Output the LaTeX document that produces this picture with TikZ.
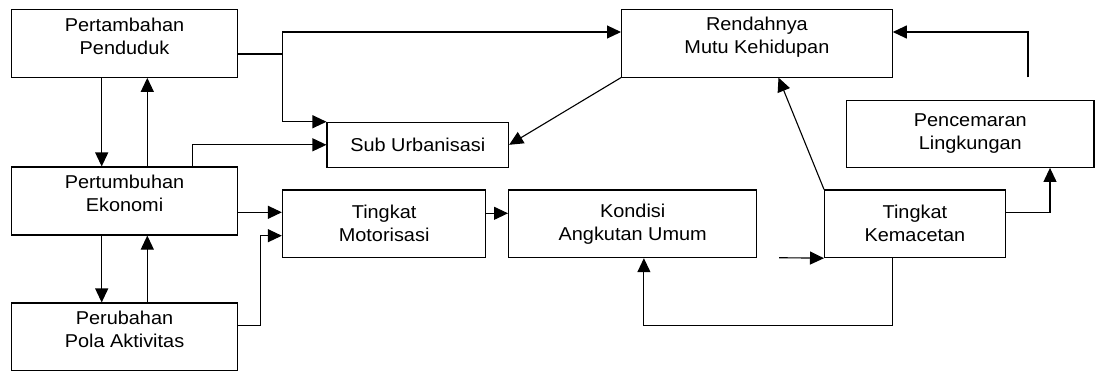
\documentclass[tikz,border=0pt]{standalone}
\usepackage{fontspec}
\setmainfont{Liberation Sans}[FakeStretch=1.07]
\usetikzlibrary{arrows.meta}

\begin{document}
\begin{tikzpicture}[x=1pt,y=-1pt,
	Box/.style = {draw, line width=1.1pt, align=center, inner sep=0pt,
		font=\fontsize{18.6}{23}\selectfont},
	Top/.style = {Box, text depth=15pt},
	Line/.style = {line width=1.1pt},
	Edge/.style = {line width=1.1pt, -{Triangle[length=14pt,width=13pt]}}]
	
	\useasboundingbox (0,0) rectangle (1095,370);
	
	\node[Top, minimum width=226pt, minimum height=68pt] (0) at (124.5,43.3) {Pertambahan\\Penduduk};
	\node[Top, minimum width=226pt, minimum height=68pt] (1) at (124.5,201) {Pertumbuhan\\Ekonomi};
	\node[Top, minimum width=226pt, minimum height=68pt] (2) at (124.5,337) {Perubahan\\Pola Aktivitas};
	
	\node[Box, minimum width=181.6pt, minimum height=45pt] (3) at (417.8,144.8) {Sub Urbanisasi};
	
	\node[Box, minimum width=203.4pt, minimum height=67.7pt] (4) at (384.1,223.8) {Tingkat\\Motorisasi};
	\node[Box, minimum width=248.3pt, minimum height=67.7pt] (5) at (632.7,223.8) {Kondisi\\Angkutan Umum};
	
	\node[Top, minimum width=270.7pt, minimum height=67.7pt] (6) at (756.9,43.2) {Rendahnya\\Mutu Kehidupan};
	
	\node[Box, minimum width=247.4pt, minimum height=67.3pt] (7) at (970.3,133.7) {Pencemaran\\Lingkungan};
	\node[Box, minimum width=180.7pt, minimum height=67.7pt] (8) at (914.9,223.8) {Tingkat\\Kemacetan};
	
	\coordinate (9) at (282.4,54);
	\coordinate (10) at (260.3,235.7);
	\coordinate (11) at (779,257.7);
	\coordinate (12) at (1028,77.3);
	
	\draw[Line] ([yshift=-10.7pt]0.east) -- (9);
	\draw[Edge] (9) |- ([yshift=11.2pt]6.west);
	\draw[Edge] (9) |- (3.north west);
	
	\draw[Edge] ([xshift=-22.8pt]0.south) -- ([xshift=-22.8pt]1.north);
	\draw[Edge] ([xshift=22.8pt]1.north) -- ([xshift=22.8pt]0.south);
	\draw[Edge] ([xshift=-22.8pt]1.south) -- ([xshift=-22.8pt]2.north);
	\draw[Edge] ([xshift=22.8pt]2.north) -- ([xshift=22.8pt]1.south);
	
	\draw[Edge] ([xshift=67.7pt]1.north) |- (3.west);
	\draw[Edge] ([yshift=-11.3pt]1.east) -- ([yshift=11.5pt]4.west);
	\draw[Edge] ([yshift=11.3pt]2.east) -| (10) -- (10 -| 4.west);
	
	\draw[Edge] ([yshift=10.5pt]4.east) -- ([yshift=10.5pt]5.west);
	\draw[Edge] (6.south west) -- (3.east);
	
	\draw[Edge] (8.north west) -- ([xshift=21.6pt]6.south);
	\draw[Edge] (11) -- (8.south west);
	\draw[Edge] ([xshift=-22.7pt]8.south) -- ++(0,67.3) -| ([xshift=11.2pt]5.south);
	\draw[Edge] ([yshift=11.5pt]8.east) -| ([xshift=79.7pt]7.south);
	\draw[Edge] (12) |- ([yshift=11.2pt]6.east);
	
\end{tikzpicture}
\end{document}
